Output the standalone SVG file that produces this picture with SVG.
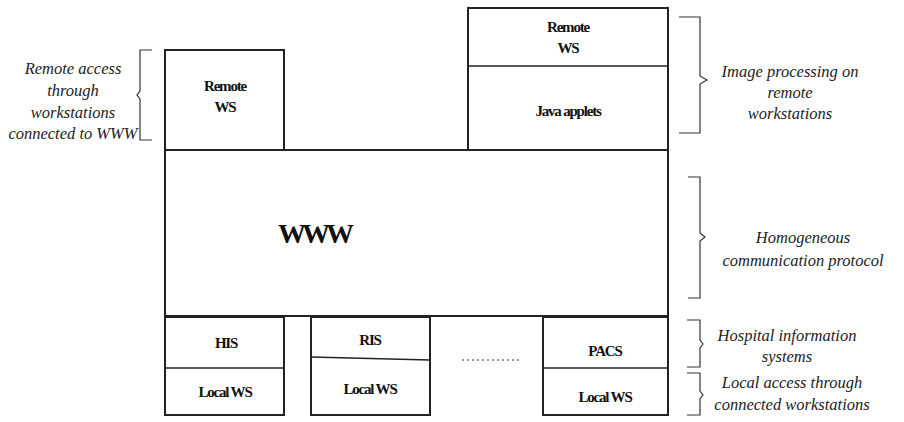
<svg xmlns="http://www.w3.org/2000/svg" width="904" height="422" viewBox="0 0 904 422">
<style>
.box{fill:none;stroke:#222;stroke-width:2}
.ln{fill:none;stroke:#222;stroke-width:1.5}
.br{fill:none;stroke:#333;stroke-width:1.2}
.lbl{font-family:"Liberation Serif",serif;font-weight:bold;font-size:15px;letter-spacing:-1.2px;text-anchor:middle;fill:#111}
.it{font-family:"Liberation Serif",serif;font-style:italic;font-size:16.5px;text-anchor:middle;fill:#222}
</style>
<rect width="904" height="422" fill="#fff"/>
<g id="www"><rect class="box" x="165" y="150" width="503" height="166"/><text class="lbl" x="314" y="243" style="font-size:28px;letter-spacing:-4px">WWW</text></g>
<g id="remote-ws-left"><rect class="box" x="165" y="50" width="119" height="100"/><text class="lbl" x="225" y="91">Remote</text><text class="lbl" x="225" y="112">WS</text></g>
<g id="remote-ws-right"><rect class="box" x="468" y="8" width="200" height="142"/><line class="ln" x1="468" y1="66" x2="668" y2="66"/><text class="lbl" x="568" y="32">Remote</text><text class="lbl" x="568" y="53">WS</text><text class="lbl" x="568" y="116">Java applets</text></g>
<g id="his"><rect class="box" x="165" y="317" width="119" height="98"/><line class="ln" x1="165" y1="368" x2="284" y2="368"/><text class="lbl" x="226" y="348">HIS</text><text class="lbl" x="225" y="397">Local WS</text></g>
<g id="ris"><rect class="box" x="311" y="317" width="119" height="98"/><line class="ln" x1="311" y1="357" x2="430" y2="360"/><text class="lbl" x="370" y="345">RIS</text><text class="lbl" x="370" y="394">Local WS</text></g>
<g id="pacs"><rect class="box" x="543" y="317" width="125" height="98"/><line class="ln" x1="543" y1="368" x2="668" y2="368"/><text class="lbl" x="605" y="356">PACS</text><text class="lbl" x="605" y="402">Local WS</text></g>
<g id="connectors">
<line x1="462" y1="360" x2="520" y2="360" stroke="#333" stroke-width="1" stroke-dasharray="2,3"/>
<path class="br" d="M152,50 H140 V91 L137,95 L140,99 V140 H152"/>
<path class="br" d="M679,17 H700 V76 L707,80 L700,84 V133 H679"/>
<path class="br" d="M688,177 H700 V233 L705,237 L700,241 V298 H688"/>
<path class="br" d="M687,320 H700 V340 L703,344 L700,348 V367 H687"/>
<path class="br" d="M687,373 H700 V391 L703,395 L700,399 V415 H687"/>
</g>
<g id="annotations">
<text class="it" x="73" y="74">Remote access</text><text class="it" x="73" y="96">through</text><text class="it" x="73" y="118">workstations</text><text class="it" x="73" y="139">connected to WWW</text>
<text class="it" x="790" y="77">Image processing on</text><text class="it" x="790" y="98">remote</text><text class="it" x="790" y="119">workstations</text>
<text class="it" x="803" y="243">Homogeneous</text><text class="it" x="803" y="266">communication protocol</text>
<text class="it" x="787" y="341">Hospital information</text><text class="it" x="787" y="362">systems</text>
<text class="it" x="792" y="388">Local access through</text><text class="it" x="792" y="410">connected workstations</text>
</g>
</svg>
